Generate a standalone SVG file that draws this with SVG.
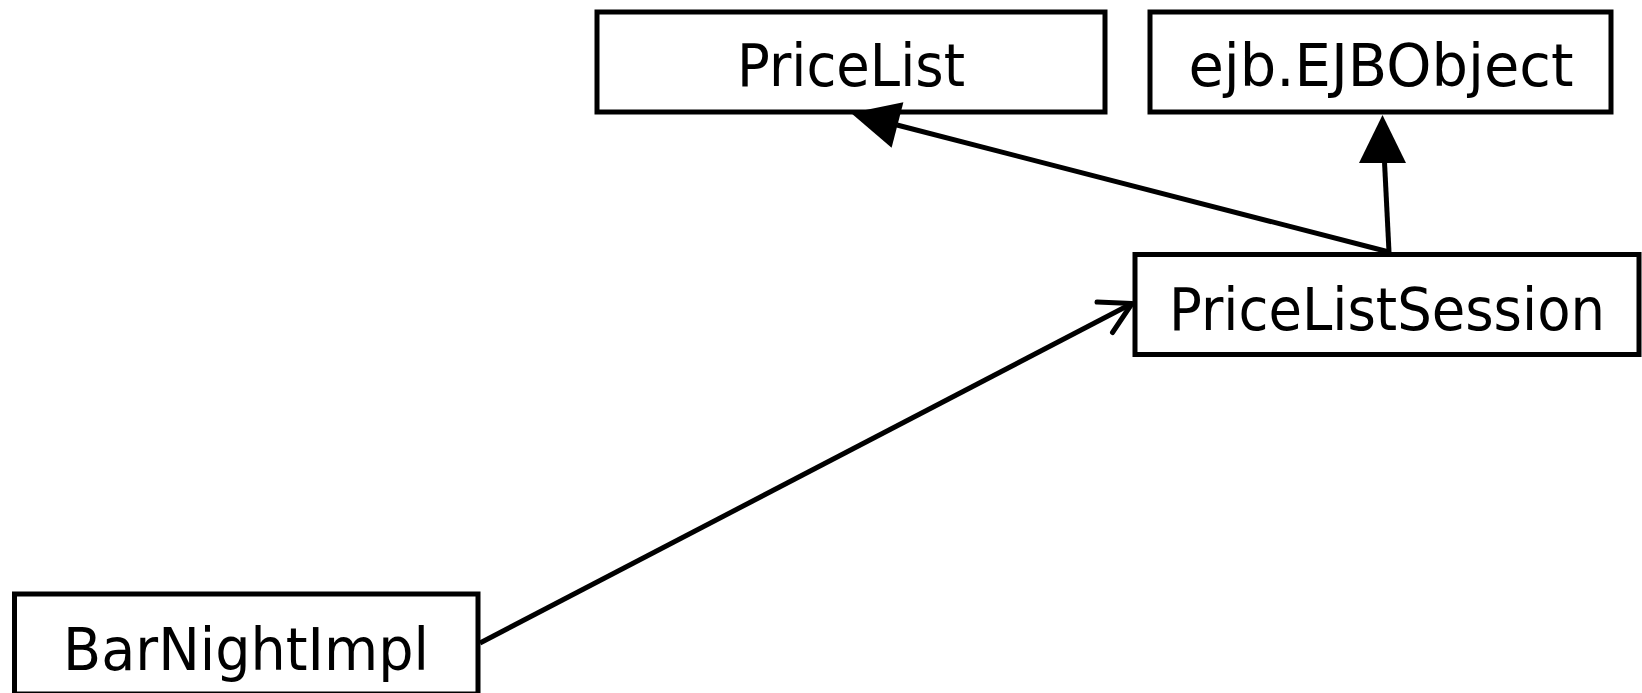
<svg xmlns="http://www.w3.org/2000/svg" width="1642" height="693" viewBox="0 0 1642 693">
  <style>
    .box { fill: #ffffff; stroke: #000000; stroke-width: 5; }
    .label { font-family: "DejaVu Sans", Verdana, sans-serif; font-size: 58px; fill: #000000; text-anchor: middle; }
    .edge { fill: none; stroke: #000000; stroke-width: 5; }
    .open { fill: none; stroke: #000000; stroke-width: 5; stroke-linecap: round; stroke-linejoin: round; }
    .head { fill: #000000; stroke: none; }
  </style>
  <rect x="0" y="0" width="1642" height="693" fill="#ffffff"/>

  <g id="node-pricelist">
    <rect class="box" x="597" y="12" width="508" height="100"/>
    <text class="label" x="851" y="86" textLength="228" lengthAdjust="spacingAndGlyphs">PriceList</text>
  </g>

  <g id="node-ejbobject">
    <rect class="box" x="1150" y="12" width="461" height="100"/>
    <text class="label" x="1381" y="86" textLength="385" lengthAdjust="spacingAndGlyphs">ejb.EJBObject</text>
  </g>

  <g id="node-pricelistsession">
    <rect class="box" x="1135" y="254.5" width="504" height="100"/>
    <text class="label" x="1387" y="330" textLength="436" lengthAdjust="spacingAndGlyphs">PriceListSession</text>
  </g>

  <g id="node-barnightimpl">
    <rect class="box" x="14.5" y="594" width="463.5" height="100"/>
    <text class="label" x="246" y="670" textLength="366" lengthAdjust="spacingAndGlyphs">BarNightImpl</text>
  </g>

  <g id="connectors">
    <!-- PriceListSession generalizes PriceList -->
    <line class="edge" x1="1389" y1="252" x2="897" y2="125"/>
    <polygon class="head" points="851,113 903.4,102.3 891.6,147.7"/>
    <!-- PriceListSession generalizes ejb.EJBObject -->
    <line class="edge" x1="1389" y1="252" x2="1384.5" y2="162"/>
    <polygon class="head" points="1382.5,115 1359,163 1406,163"/>
    <!-- BarNightImpl uses PriceListSession -->
    <line class="edge" x1="480" y1="643" x2="1131" y2="304"/>
    <polyline class="open" points="1097,302 1132,303.5 1112.5,332.5"/>
  </g>
</svg>
